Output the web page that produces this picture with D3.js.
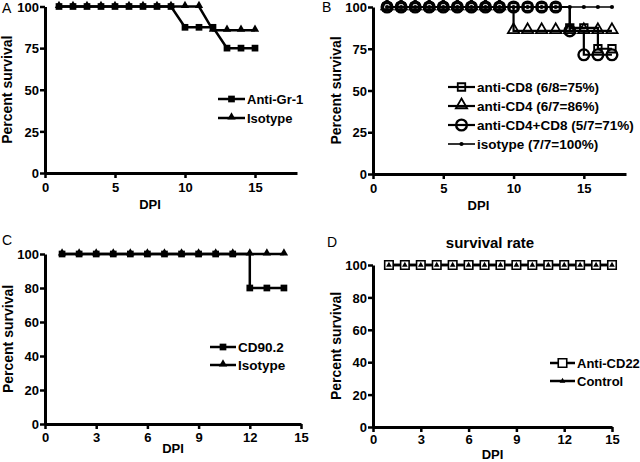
<!DOCTYPE html>
<html><head><meta charset="utf-8">
<script src="https://cdn.jsdelivr.net/npm/d3@7"></script>
<style>
body{margin:0;background:#fff;}
svg{display:block;font-family:"Liberation Sans",Arial,sans-serif;}
</style></head><body>
<svg id="c" width="640" height="462"></svg>
<script>
// ---------- data ----------
const daysA = [1,2,3,4,5,6,7,8,9,10,11,12,13,14,15];
const antiGr1 = [100,100,100,100,100,100,100,100,100,87.5,87.5,87.5,75,75,75];
const isotypeA = [100,100,100,100,100,100,100,100,100,100,100,85.7,85.7,85.7,85.7];
const seriesNamesA = ["Anti-Gr-1","Isotype"];

const daysB = [1,2,3,4,5,6,7,8,9,10,11,12,13,14,15,16,17];
const antiCD8 = [100,100,100,100,100,100,100,100,100,100,100,100,100,87.5,87.5,75,75];
const antiCD4 = [100,100,100,100,100,100,100,100,100,85.7,85.7,85.7,85.7,85.7,85.7,85.7,85.7];
const antiCD4CD8 = [100,100,100,100,100,100,100,100,100,100,100,100,100,85.7,71.4,71.4,71.4];
const isotypeB = [100,100,100,100,100,100,100,100,100,100,100,100,100,100,100,100,100];
const seriesNamesB = ["anti-CD8 (6/8=75%)","anti-CD4 (6/7=86%)","anti-CD4+CD8 (5/7=71%)","isotype (7/7=100%)"];

const daysC = [1,2,3,4,5,6,7,8,9,10,11,12,13,14];
const cd902 = [100,100,100,100,100,100,100,100,100,100,100,80,80,80];
const isotypeC = [100,100,100,100,100,100,100,100,100,100,100,100,100,100];
const seriesNamesC = ["CD90.2","Isotype"];

const daysD = [1,2,3,4,5,6,7,8,9,10,11,12,13,14,15];
const antiCD22 = [100,100,100,100,100,100,100,100,100,100,100,100,100,100,100];
const controlD = [100,100,100,100,100,100,100,100,100,100,100,100,100,100,100];
const seriesNamesD = ["Anti-CD22","Control"];

const xTicksAB = [0,5,10,15];
const yTicksAB = [0,25,50,75,100];
const xTicksCD = [0,3,6,9,12,15];
const yTicksCD = [0,20,40,60,80,100];
const panelLabels = ["A","B","C","D"];
const titleD = "survival rate";
const xTitle = "DPI";
const yTitle = "Percent survival";

// ---------- drawing ----------
const svg = d3.select("#c");

function marker(g, type, x, y, opt){
  const sym = {square:d3.symbolSquare, triangle:d3.symbolTriangle, circle:d3.symbolCircle}[type];
  const p = g.append("path")
    .attr("d", d3.symbol().type(sym).size(opt.size)())
    .attr("transform", `translate(${x},${y + (type==="triangle"? (opt.tOff||0):0)})`);
  if(opt.open){ p.attr("fill", opt.fillOpen||"none").attr("stroke","#000").attr("stroke-width", opt.sw||1.8); }
  else { p.attr("fill","#000"); }
}

function panel(cfg){
  const g = svg.append("g");
  const x = d3.scaleLinear().domain(cfg.xDomain).range(cfg.xRange);
  const y = d3.scaleLinear().domain([0,100]).range(cfg.yRange);

  // axes
  const ax = g.append("g").attr("transform",`translate(0,${cfg.yRange[0]})`)
    .call(d3.axisBottom(x).tickValues(cfg.xTicks).tickSize(5).tickSizeOuter(0).tickFormat(d3.format("d")));
  const ay = g.append("g").attr("transform",`translate(${cfg.xRange[0]},0)`)
    .call(d3.axisLeft(y).tickValues(cfg.yTicks).tickSize(5).tickSizeOuter(0).tickFormat(d3.format("d")));
  [ax,ay].forEach(a=>{
    a.select(".domain").attr("stroke","#000").attr("stroke-width",3);
    a.selectAll(".tick line").attr("stroke","#000").attr("stroke-width",2.5);
    a.selectAll(".tick text").attr("fill","#000").attr("font-size",13).attr("font-weight","bold")
      .attr("font-family","'Liberation Sans',Arial,sans-serif");
  });
  ax.selectAll(".tick text").attr("dy",null).attr("y",cfg.xLabelY);
  ay.selectAll(".tick text").attr("x",-6).attr("dy","0.36em");

  // titles
  g.append("text").attr("x",(cfg.xRange[0]+x(cfg.xTicks[cfg.xTicks.length-1]))/2+ (cfg.dpiDx||0)).attr("y",cfg.yRange[0]+cfg.dpiY)
    .attr("text-anchor","middle").attr("font-size",13).attr("font-weight","bold").text(xTitle);
  g.append("text").attr("transform",`translate(${cfg.yTitleX},${(cfg.yRange[0]+cfg.yRange[1])/2}) rotate(-90)`)
    .attr("text-anchor","middle").attr("font-size",14).attr("font-weight","bold").text(yTitle);
  g.append("text").attr("x",cfg.labelPos[0]).attr("y",cfg.labelPos[1]).attr("font-size",14)
    .text(cfg.label);
  if(cfg.title){
    g.append("text").attr("x",cfg.titlePos[0]).attr("y",cfg.titlePos[1]).attr("text-anchor","middle")
      .attr("font-size",15).attr("font-weight","bold").text(cfg.title);
  }

  // series
  cfg.series.forEach(s=>{
    const pts = cfg.days.map((d,i)=>[d,s.values[i]]);
    g.append("path").datum(pts)
      .attr("d", d3.line().x(d=>x(d[0])).y(d=>y(d[1])).curve(cfg.step?d3.curveStepAfter:d3.curveLinear))
      .attr("fill","none").attr("stroke","#000").attr("stroke-width",s.lw||2.5);
  });
  cfg.series.forEach(s=>{
    cfg.days.forEach((d,i)=>marker(g,s.marker,x(d),y(s.values[i]),s.mopt));
  });

  // legend
  cfg.series.forEach((s,i)=>{
    const ly = cfg.legend.y + i*cfg.legend.dy;
    g.append("line").attr("x1",cfg.legend.x).attr("x2",cfg.legend.x+cfg.legend.len)
      .attr("y1",ly).attr("y2",ly).attr("stroke","#000").attr("stroke-width",s.lw||2.5);
    marker(g,s.marker,cfg.legend.x+cfg.legend.len/2,ly,s.mopt);
    g.append("text").attr("x",cfg.legend.x+cfg.legend.len+2).attr("y",ly).attr("dy","0.36em")
      .attr("font-size",cfg.legend.fs).attr("font-weight","bold").text(s.name);
  });
}

panel({
  label:panelLabels[0], labelPos:[2,13],
  xDomain:[0,18], xRange:[45,297], yRange:[173,6.5],
  xTicks:xTicksAB, yTicks:yTicksAB, xLabelY:19, dpiY:36, yTitleX:12,
  days:daysA, step:false,
  series:[
    {name:seriesNamesA[1], values:isotypeA, marker:"triangle", mopt:{size:30,tOff:-1}},
    {name:seriesNamesA[0], values:antiGr1, marker:"square", mopt:{size:45}}
  ].reverse(),
  legend:{x:218,len:27,y:99,dy:19,fs:13}
});

panel({
  label:panelLabels[1], labelPos:[322,12],
  xDomain:[0,18], xRange:[373,626], yRange:[174,7],
  xTicks:xTicksAB, yTicks:yTicksAB, xLabelY:19, dpiY:36, yTitleX:341,
  days:daysB, step:true,
  series:[
    {name:seriesNamesB[0], values:antiCD8, marker:"square", mopt:{size:56,open:true,sw:1.8}, lw:2.2},
    {name:seriesNamesB[1], values:antiCD4, marker:"triangle", mopt:{size:55,open:true,sw:1.8,tOff:-1}, lw:2.2},
    {name:seriesNamesB[2], values:antiCD4CD8, marker:"circle", mopt:{size:90,open:true,sw:2.4}, lw:2.2},
    {name:seriesNamesB[3], values:isotypeB, marker:"circle", mopt:{size:14}, lw:1.6}
  ],
  legend:{x:448,len:27,y:87,dy:19,fs:13.5}
});

panel({
  label:panelLabels[2], labelPos:[2,245],
  xDomain:[0,15], xRange:[45,301], yRange:[424,254],
  xTicks:xTicksCD, yTicks:yTicksCD, xLabelY:18, dpiY:29, yTitleX:13,
  days:daysC, step:true,
  series:[
    {name:seriesNamesC[0], values:cd902, marker:"square", mopt:{size:45}},
    {name:seriesNamesC[1], values:isotypeC, marker:"triangle", mopt:{size:30,tOff:-1}}
  ],
  legend:{x:210,len:26,y:347,dy:18,fs:13.5}
});

panel({
  label:panelLabels[3], labelPos:[327,247], title:titleD, titlePos:[490,248],
  xDomain:[0,15], xRange:[373,612], yRange:[427,265],
  xTicks:xTicksCD, yTicks:yTicksCD, xLabelY:17, dpiY:32, yTitleX:341,
  days:daysD, step:true,
  series:[
    {name:seriesNamesD[0], values:antiCD22, marker:"square", mopt:{size:72,open:true,fillOpen:"#fff",sw:1.6}},
    {name:seriesNamesD[1], values:controlD, marker:"triangle", mopt:{size:14,tOff:0}}
  ],
  legend:{x:550,len:25,y:363,dy:18,fs:13}
});
</script>
</body></html>
